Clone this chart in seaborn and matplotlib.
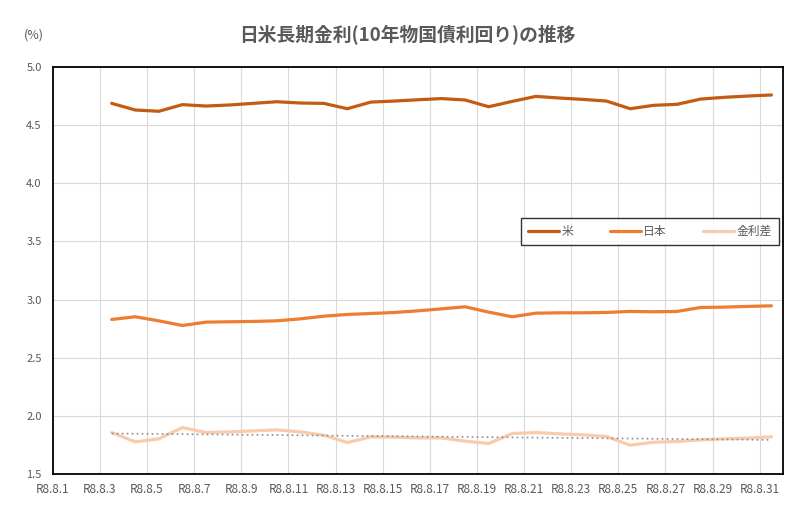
import numpy as np
import pandas as pd
import matplotlib.pyplot as plt
import seaborn as sns

# 日付(R8.8.x)と各系列の値
days = list(range(3, 32))
us = [4.687, 4.630, 4.619, 4.676, 4.664, 4.673, 4.687, 4.701, 4.690, 4.687,
      4.641, 4.698, 4.707, 4.718, 4.728, 4.716, 4.658, 4.704, 4.747, 4.733,
      4.721, 4.707, 4.641, 4.670, 4.679, 4.724, 4.739, 4.750, 4.759]
jp = [2.830, 2.853, 2.818, 2.778, 2.807, 2.810, 2.813, 2.818, 2.835, 2.858,
      2.873, 2.881, 2.890, 2.904, 2.921, 2.939, 2.893, 2.853, 2.884, 2.887,
      2.887, 2.890, 2.899, 2.896, 2.899, 2.933, 2.936, 2.942, 2.947]
spread = [1.858, 1.778, 1.804, 1.901, 1.858, 1.864, 1.872, 1.881, 1.864, 1.835,
          1.772, 1.821, 1.818, 1.812, 1.812, 1.784, 1.764, 1.850, 1.858, 1.847,
          1.838, 1.824, 1.749, 1.775, 1.781, 1.795, 1.804, 1.810, 1.821]
tick_days = list(range(1, 32, 2))
tick_labels = [f"R8.8.{d}" for d in tick_days]
series_names = ["米", "日本", "金利差"]
colors = ["#C55A11", "#ED7D31", "#F8CBAD"]

sns.set_theme(style="white")
plt.rcParams['font.family'] = ['Noto Sans CJK JP', 'DejaVu Sans']

df = pd.DataFrame({"day": days, "米": us, "日本": jp, "金利差": spread})
# 点は各日の区間の中央に置く
df["x"] = df["day"] + 0.5
long = df.melt(id_vars=["day", "x"], value_vars=series_names,
               var_name="系列", value_name="値")

fig = plt.figure(figsize=(8, 5.11), dpi=100)
ax = fig.add_axes([0.066, 0.072, 0.913, 0.797])

sns.lineplot(data=long, x="x", y="値", hue="系列", hue_order=series_names,
             palette=colors, linewidth=2.3, ax=ax)

# 金利差の線形近似
sns.regplot(data=df, x="x", y="金利差", scatter=False, ci=None, ax=ax,
            line_kws={"color": "#8c8c8c", "linestyle": (0, (1, 2)), "linewidth": 1.2})

ax.set_xlim(1, 32)
ax.set_ylim(1.5, 5.0)
ax.set_xticks(tick_days)
ax.set_xticklabels(tick_labels)
ax.set_yticks(np.arange(1.5, 5.01, 0.5))
ax.set_yticklabels([f"{v:.1f}" for v in np.arange(1.5, 5.01, 0.5)])
ax.grid(True, color="#d9d9d9", linewidth=0.8)
ax.set_axisbelow(True)
ax.tick_params(axis="x", labelsize=8.5, colors="#595959", length=0, pad=6)
ax.tick_params(axis="y", labelsize=8, colors="#595959", length=0, pad=8)
ax.set_xlabel("")
ax.set_ylabel("")
for s in ax.spines.values():
    s.set_color("black")
    s.set_linewidth(1.3)

fig.text(0.509, 0.932, "日米長期金利(10年物国債利回り)の推移", ha="center", va="center",
         fontsize=13.5, fontweight="bold", color="#595959")
fig.text(0.03, 0.932, "(%)", ha="left", va="center", fontsize=9, color="#595959")

handles, labels = ax.get_legend_handles_labels()
leg = ax.legend(handles[:3], labels[:3], loc="upper left",
                bbox_to_anchor=(0.641, 0.560, 0.353, 0.069), mode="expand",
                ncol=3, frameon=True, fontsize=8.5, handlelength=2.6, columnspacing=2.4,
                borderpad=0.6, borderaxespad=0, fancybox=False, handletextpad=0.2)
leg.get_frame().set_edgecolor("black")
leg.get_frame().set_linewidth(1.0)
for t in leg.get_texts():
    t.set_color("#595959")

fig.savefig("out.png", dpi=100)
